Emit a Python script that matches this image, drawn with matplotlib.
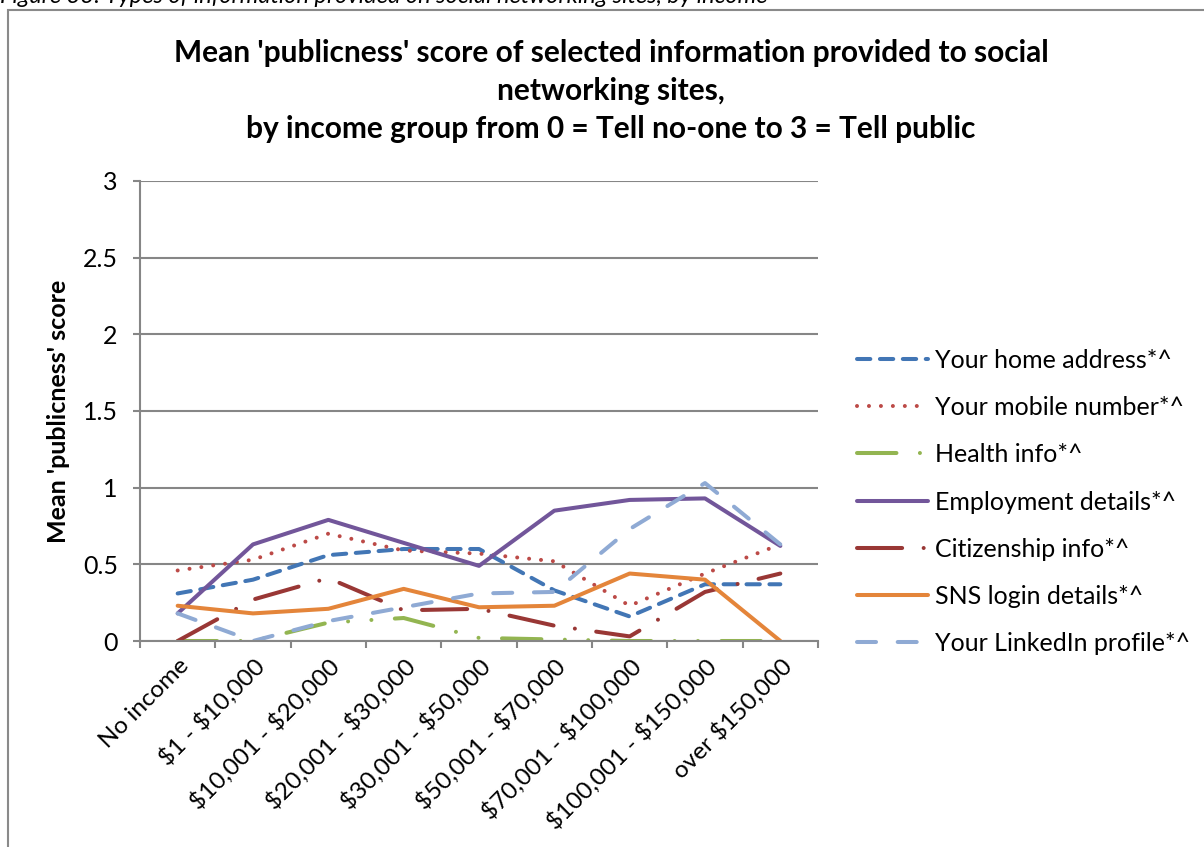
import matplotlib
matplotlib.use("Agg")
import matplotlib.pyplot as plt
from matplotlib.patches import Rectangle

plt.rcParams["font.family"] = ["Lato", "DejaVu Sans"]
plt.rcParams["text.parse_math"] = False
plt.rcParams["lines.scale_dashes"] = False

categories = ["No income", "$1 - $10,000", "$10,001 - $20,000", "$20,001 - $30,000",
              "$30,001 - $50,000", "$50,001 - $70,000", "$70,001 - $100,000",
              "$100,001 - $150,000", "over $150,000"]

home_address = [0.31, 0.40, 0.56, 0.60, 0.60, 0.33, 0.16, 0.37, 0.37]
mobile_number = [0.46, 0.53, 0.70, 0.59, 0.57, 0.52, 0.23, 0.44, 0.63]
health_info = [0.0, 0.0, 0.12, 0.15, 0.02, 0.01, 0.0, 0.0, 0.0]
employment = [0.18, 0.63, 0.79, 0.64, 0.49, 0.85, 0.92, 0.93, 0.62]
citizenship = [0.0, 0.27, 0.41, 0.20, 0.21, 0.10, 0.03, 0.32, 0.44]
sns_login = [0.23, 0.18, 0.21, 0.34, 0.22, 0.23, 0.44, 0.40, 0.0]
linkedin = [0.18, 0.0, 0.13, 0.22, 0.31, 0.32, 0.73, 1.03, 0.63]

series_labels = ["Your home address*^", "Your mobile number*^", "Health info*^",
                 "Employment details*^", "Citizenship info*^", "SNS login details*^",
                 "Your LinkedIn profile*^"]

W, H = 1204, 847
fig = plt.figure(figsize=(W / 100, H / 100), dpi=100)

# outer frame of the chart object and the figure caption above it
fig.patches.append(Rectangle((8 / W, -0.1), 1.1, 1 - 10 / H + 0.1, transform=fig.transFigure,
                             fill=False, edgecolor="#8a8a8a", linewidth=1.5))
fig.text(0.0, 1 - 3 / H, "Figure 33: Types of information provided on social networking sites, by income",
         fontsize=17, style="italic", ha="left", va="baseline", color="black")

ax = fig.add_axes([140 / W, (H - 641) / H, (818 - 140) / W, (641 - 181) / H])

x = list(range(len(categories)))
lw = 2.9
grey = "#868686"

styles = [
    dict(color="#4276b5", linestyle=(0, (9.6, 6.9)), dash_capstyle="round"),
    dict(color="#bc4a47", linestyle=(0, (0.01, 8.6)), dash_capstyle="round"),
    dict(color="#93b551", linestyle=(0, (28.4, 16.9, 0.01, 16.8, 0.01, 16.9)), dash_capstyle="round"),
    dict(color="#72569a", linestyle="-", solid_capstyle="round"),
    dict(color="#993735", linestyle=(0, (32.5, 15.5, 0.01, 15.5)), dash_capstyle="round"),
    dict(color="#e4853a", linestyle="-", solid_capstyle="round"),
    dict(color="#8faad4", linestyle=(0, (13.7, 15.6)), dash_capstyle="round"),
]
data = [home_address, mobile_number, health_info, employment, citizenship, sns_login, linkedin]

handles = []
for values, st, lab in zip(data, styles, series_labels):
    h, = ax.plot(x, values, linewidth=lw, label=lab, solid_joinstyle="round",
                 dash_joinstyle="round", **st)
    handles.append(h)

ax.set_xlim(-0.5, len(categories) - 0.5)
ax.set_ylim(0, 3)
ax.set_yticks([0, 0.5, 1, 1.5, 2, 2.5, 3])
ax.set_yticklabels(["0", "0.5", "1", "1.5", "2", "2.5", "3"], fontsize=18)
ax.yaxis.grid(True, color=grey, linewidth=1.5)
ax.set_axisbelow(True)

# tick marks on category boundaries, labels at category centres
ax.set_xticks([i - 0.5 for i in range(len(categories) + 1)])
ax.set_xticklabels([])
ax.set_xticks(x, minor=True)
ax.set_xticklabels(categories, minor=True, rotation=45, ha="right", va="top",
                   rotation_mode="anchor", fontsize=17.5)
ax.tick_params(axis="x", which="minor", length=0, pad=10)
ax.tick_params(axis="x", which="major", length=5, width=1.5, color=grey, direction="out")
ax.tick_params(axis="y", length=5, width=1.5, color=grey, direction="out", pad=11)

for side in ("top", "right"):
    ax.spines[side].set_visible(False)
for side in ("left", "bottom"):
    ax.spines[side].set_color(grey)
    ax.spines[side].set_linewidth(1.5)

ax.set_ylabel("Mean 'publicness' score", fontsize=18, fontweight="bold", labelpad=9)

fig.text(611 / W, 1 - 91 / H,
         "Mean 'publicness' score of selected information provided to social\nnetworking sites,\nby income group from 0 = Tell no-one to 3 = Tell public",
         fontsize=21.5, fontweight="bold", ha="center", va="center", linespacing=1.45)

fig.legend(handles=handles, loc="center left", bbox_to_anchor=(857 / W, 1 - 502 / H),
           frameon=False, fontsize=18, handlelength=2.84, handletextpad=0.28,
           labelspacing=0.97, borderpad=0, borderaxespad=0)

fig.savefig("out.png", dpi=100)
